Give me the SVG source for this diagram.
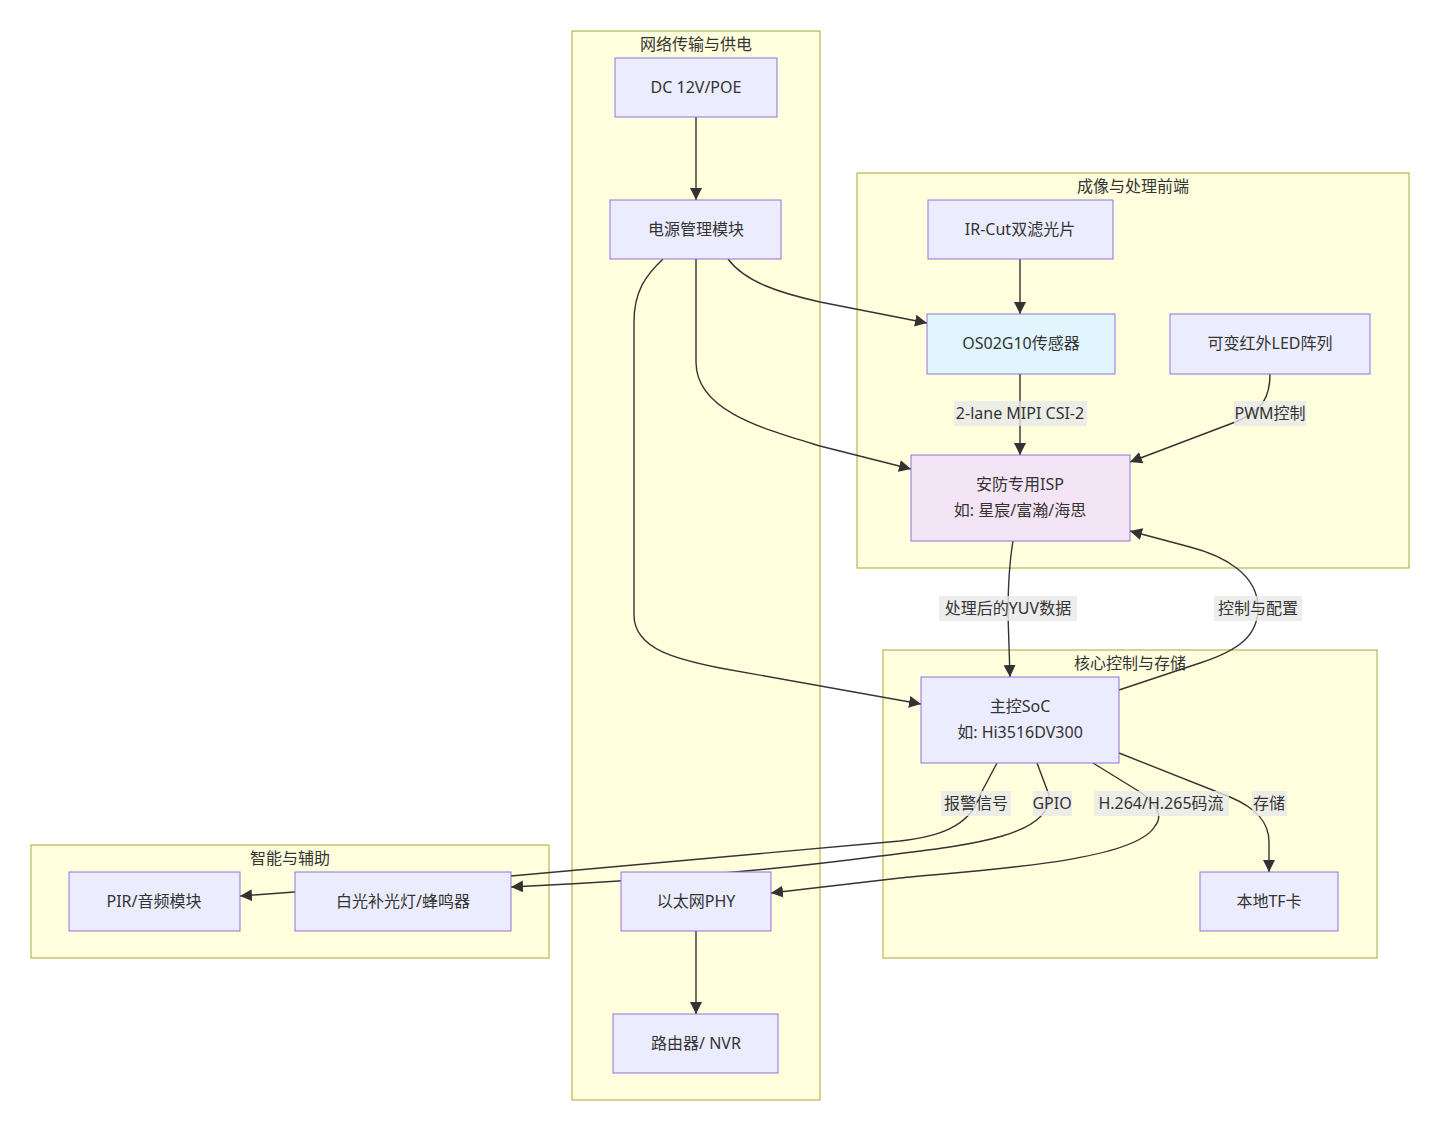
<svg xmlns="http://www.w3.org/2000/svg" width="1440" height="1132" viewBox="0 0 1440 1132">
<defs>
<style>
.cl{fill:#ffffde;stroke:#aaaa33;stroke-width:1}
.nd{fill:#ececff;stroke:#9370db;stroke-width:1}
.t{font-family:"Noto Sans","Noto Sans CJK SC",sans-serif;font-size:16px;fill:#333;text-anchor:middle;dominant-baseline:central}
.e{fill:none;stroke:#333;stroke-width:1.4}
.lb{fill:#e8e8e8;fill-opacity:0.8}
</style>
<marker id="ah" viewBox="0 0 10 10" refX="10" refY="5" markerUnits="userSpaceOnUse" markerWidth="12" markerHeight="12" orient="auto">
<path d="M0,0 L10,5 L0,10 z" fill="#333"/>
</marker>
</defs>
<rect width="1440" height="1132" fill="#fff"/>
<g id="clusters">
<g id="cl-net"><rect class="cl" x="572" y="31" width="248" height="1069"/><text class="t" x="696" y="44">网络传输与供电</text></g>
<g id="cl-img"><rect class="cl" x="857" y="173" width="552" height="395"/><text class="t" x="1133" y="186">成像与处理前端</text></g>
<g id="cl-core"><rect class="cl" x="883" y="650" width="494" height="308"/><text class="t" x="1130" y="663">核心控制与存储</text></g>
<g id="cl-aux"><rect class="cl" x="31" y="845" width="518" height="113"/><text class="t" x="290" y="858">智能与辅助</text></g>
</g>
<g id="connectors">
<path class="e" marker-end="url(#ah)" d="M696,117 L696,200"/>
<path class="e" marker-end="url(#ah)" d="M728,259 C745,282 780,293 820,302 L927,323"/>
<path class="e" marker-end="url(#ah)" d="M696,259 L696,362 C696,410 760,428 820,446 L911,469"/>
<path class="e" marker-end="url(#ah)" d="M663,259 C645,276 634,292 634,322 L634,615 C634,650 680,660 720,668 L921,704"/>
<path class="e" marker-end="url(#ah)" d="M1020,259 L1020,314"/>
<path class="e" marker-end="url(#ah)" d="M1020,374 L1020,455"/>
<path class="e" marker-end="url(#ah)" d="M1270,374 C1270,398 1262,410 1238,421 L1130,462"/>
<path class="e" marker-end="url(#ah)" d="M1013,541 C1009,565 1008,590 1008,615 L1010,677"/>
<path class="e" marker-end="url(#ah)" d="M1119,690 L1200,663 C1240,650 1258,635 1258,608 C1258,575 1225,556 1190,547 L1130,531"/>
<path class="e" marker-end="url(#ah)" d="M997,763 L980,795 C970,828 935,837 900,841 L511,876 L240,896"/>
<path class="e" marker-end="url(#ah)" d="M1037,763 L1049,795 C1052,838 960,846 880,856 C760,872 620,882 511,887"/>
<path class="e" marker-end="url(#ah)" d="M1093,763 L1140,792 C1160,806 1162,818 1155,826 C1135,862 980,870 900,878 L771,893"/>
<path class="e" marker-end="url(#ah)" d="M1119,753 L1230,797 C1256,808 1269,822 1269,842 L1269,872"/>
<path class="e" marker-end="url(#ah)" d="M696,931 L696,1014"/>
</g>
<g id="edge-labels">
<g><rect class="lb" x="954" y="401" width="133" height="25"/><text class="t" x="1020" y="413">2-lane MIPI CSI-2</text></g>
<g><rect class="lb" x="1234" y="401" width="72" height="25"/><text class="t" x="1270" y="413">PWM控制</text></g>
<g><rect class="lb" x="939" y="596" width="138" height="25"/><text class="t" x="1008" y="608">处理后的YUV数据</text></g>
<g><rect class="lb" x="1214" y="596" width="88" height="25"/><text class="t" x="1258" y="608">控制与配置</text></g>
<g><rect class="lb" x="941" y="791" width="70" height="25"/><text class="t" x="976" y="803">报警信号</text></g>
<g><rect class="lb" x="1033" y="791" width="39" height="25"/><text class="t" x="1052" y="803">GPIO</text></g>
<g><rect class="lb" x="1094" y="791" width="135" height="25"/><text class="t" x="1161" y="803">H.264/H.265码流</text></g>
<g><rect class="lb" x="1252" y="791" width="35" height="25"/><text class="t" x="1269" y="803">存储</text></g>
</g>
<g id="n-dc"><rect class="nd" x="615" y="58" width="162" height="59"/><text class="t" x="696" y="87">DC 12V/POE</text></g>
<g id="n-pm"><rect class="nd" x="610" y="200" width="171" height="59"/><text class="t" x="696" y="229">电源管理模块</text></g>
<g id="n-ircut"><rect class="nd" x="928" y="200" width="185" height="59"/><text class="t" x="1020" y="229">IR-Cut双滤光片</text></g>
<g id="n-sensor"><rect x="927" y="314" width="188" height="60" fill="#e1f5fe" stroke="#9370db" stroke-width="1"/><text class="t" x="1021" y="343">OS02G10传感器</text></g>
<g id="n-led"><rect class="nd" x="1170" y="314" width="200" height="60"/><text class="t" x="1270" y="343">可变红外LED阵列</text></g>
<g id="n-isp"><rect x="911" y="455" width="219" height="86" fill="#f3e5f5" stroke="#9370db" stroke-width="1"/><text class="t" x="1020" y="484">安防专用ISP</text><text class="t" x="1020" y="510">如: 星宸/富瀚/海思</text></g>
<g id="n-soc"><rect class="nd" x="921" y="677" width="198" height="86"/><text class="t" x="1020" y="706">主控SoC</text><text class="t" x="1020" y="732">如: Hi3516DV300</text></g>
<g id="n-tf"><rect class="nd" x="1200" y="872" width="138" height="59"/><text class="t" x="1269" y="901">本地TF卡</text></g>
<g id="n-phy"><rect class="nd" x="621" y="872" width="150" height="59"/><text class="t" x="696" y="901">以太网PHY</text></g>
<g id="n-nvr"><rect class="nd" x="613" y="1014" width="165" height="59"/><text class="t" x="696" y="1043">路由器/ NVR</text></g>
<g id="n-light"><rect class="nd" x="295" y="872" width="216" height="59"/><text class="t" x="403" y="901">白光补光灯/蜂鸣器</text></g>
<g id="n-pir"><rect class="nd" x="69" y="872" width="171" height="59"/><text class="t" x="154" y="901">PIR/音频模块</text></g>
</svg>
